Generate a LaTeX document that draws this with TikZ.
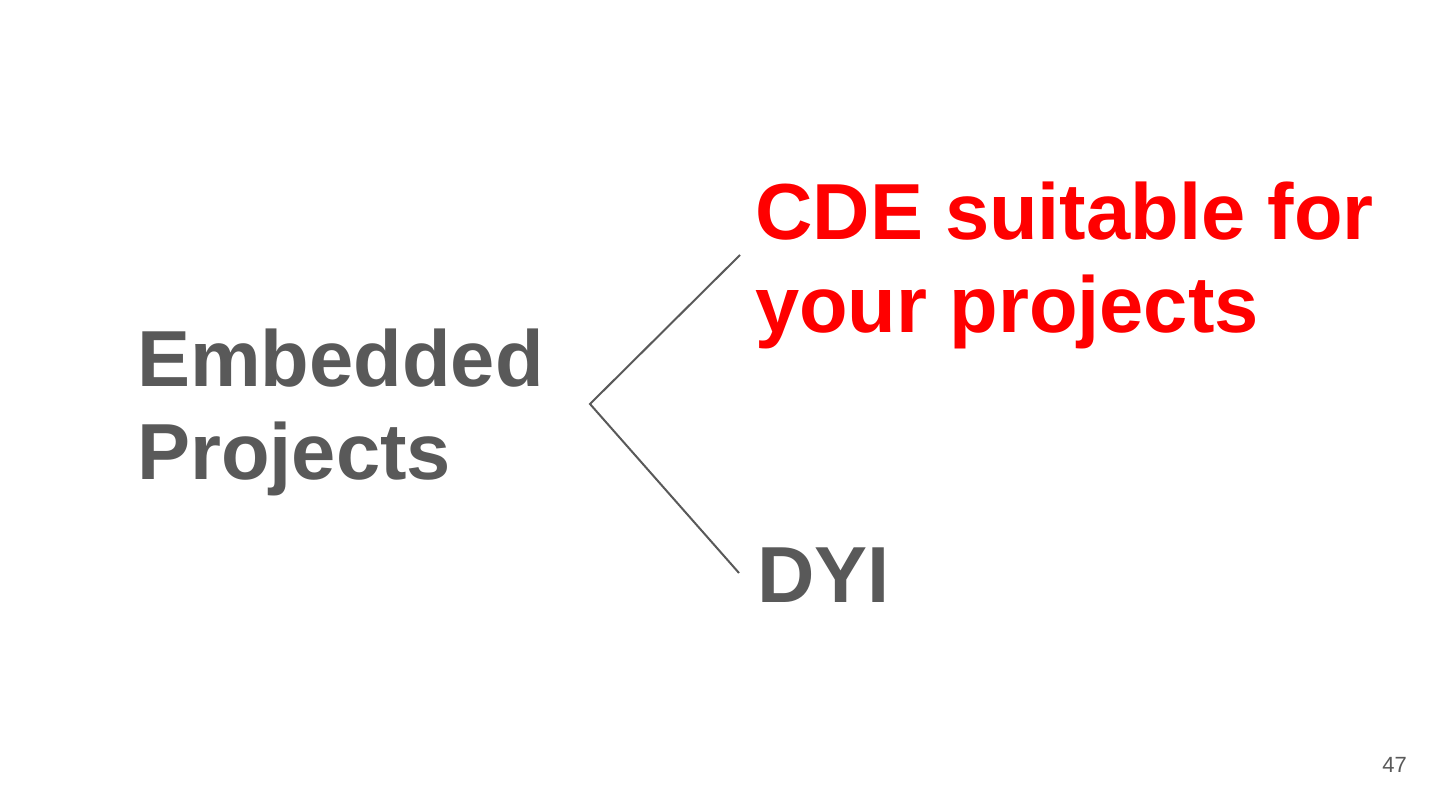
\documentclass[tikz,border=0pt]{standalone}
\usepackage{fontspec}
\setmainfont{Liberation Sans}
\definecolor{txtgray}{HTML}{595959}
\definecolor{linegray}{HTML}{595959}
\definecolor{slidered}{HTML}{FF0000}
\begin{document}
\begin{tikzpicture}[x=1pt,y=1pt,
  big/.style={inner sep=0pt,anchor=base west,align=left,font=\fontsize{79.5}{93}\selectfont\bfseries},
  branch/.style={draw=linegray,line width=2pt}]
\useasboundingbox[fill=white] (0,0) rectangle (1440,810);
\node[big,text=txtgray] (root) at (137,330) {Embedded\\Projects};
\node[big,text=slidered] (cde) at (755,477) {CDE suitable for\\your projects};
\node[big,text=txtgray] (dyi) at (757,207) {DYI};
\coordinate (fork) at (590,406);
\coordinate (topend) at (740,555);
\coordinate (botend) at (739,237);
\draw[branch] (topend) -- (fork) -- (botend);
\node[inner sep=0pt,anchor=base east,text=txtgray,font=\fontsize{22}{26}\selectfont] (pagenum) at (1407,37) {47};
\end{tikzpicture}
\end{document}
